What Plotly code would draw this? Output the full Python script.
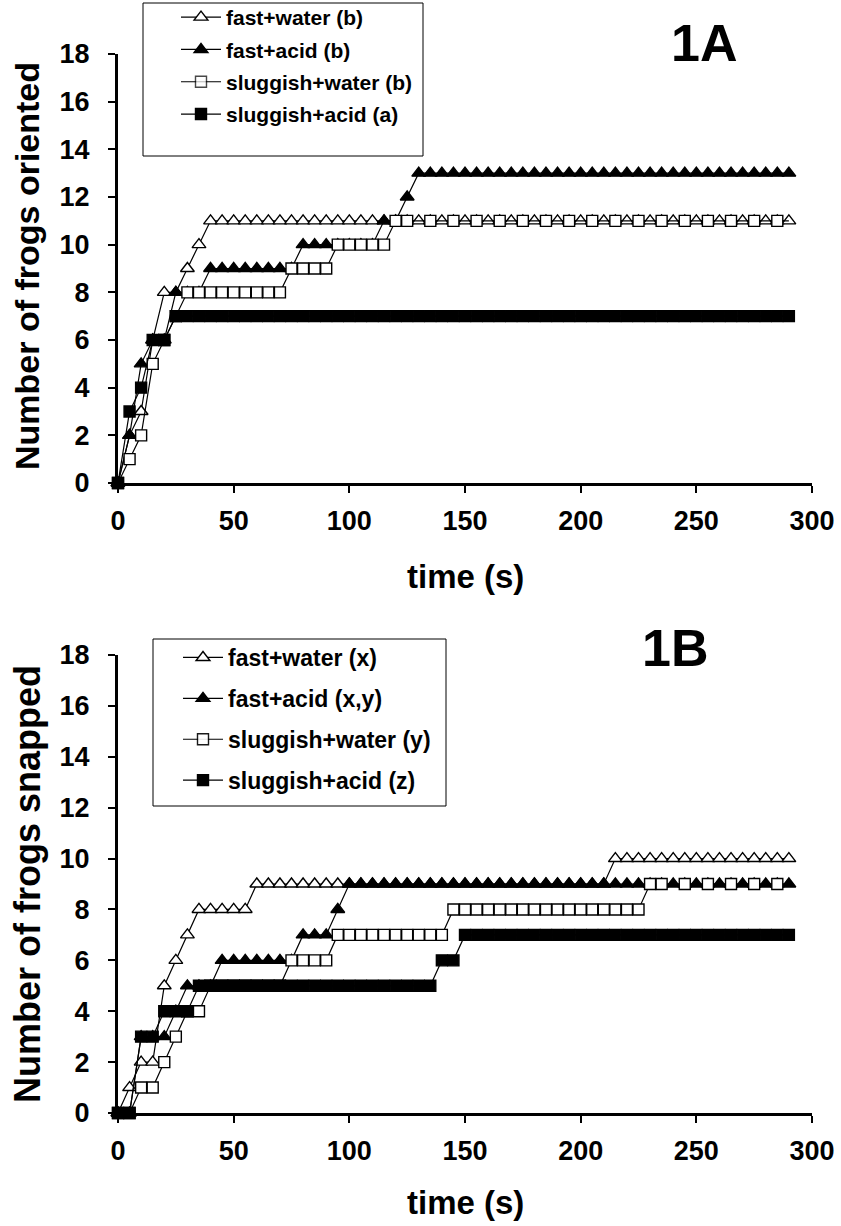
import plotly.graph_objects as go

# ---------------- data ----------------
time_s = [0, 5, 10, 15, 20, 25, 30, 35, 40, 45, 50, 55, 60, 65, 70, 75, 80, 85, 90, 95,
          100, 105, 110, 115, 120, 125, 130, 135, 140, 145, 150, 155, 160, 165, 170, 175,
          180, 185, 190, 195, 200, 205, 210, 215, 220, 225, 230, 235, 240, 245, 250, 255,
          260, 265, 270, 275, 280, 285, 290]

# Panel 1A: number of frogs oriented
oriented_fast_water = [0, 2, 3, 6, 8, 8, 9, 10, 11, 11, 11, 11, 11, 11, 11, 11, 11, 11, 11, 11,
                       11, 11, 11, 11, 11, 11, 11, 11, 11, 11, 11, 11, 11, 11, 11, 11, 11, 11, 11, 11,
                       11, 11, 11, 11, 11, 11, 11, 11, 11, 11, 11, 11, 11, 11, 11, 11, 11, 11, 11]
oriented_fast_acid = [0, 2, 5, 6, 6, 8, 8, 8, 9, 9, 9, 9, 9, 9, 9, 9, 10, 10, 10, 10,
                      10, 10, 10, 11, 11, 12, 13, 13, 13, 13, 13, 13, 13, 13, 13, 13, 13, 13, 13, 13,
                      13, 13, 13, 13, 13, 13, 13, 13, 13, 13, 13, 13, 13, 13, 13, 13, 13, 13, 13]
oriented_slug_water = [0, 1, 2, 5, 6, 7, 8, 8, 8, 8, 8, 8, 8, 8, 8, 9, 9, 9, 9, 10,
                       10, 10, 10, 10, 11, 11, 11, 11, 11, 11, 11, 11, 11, 11, 11, 11, 11, 11, 11, 11,
                       11, 11, 11, 11, 11, 11, 11, 11, 11, 11, 11, 11, 11, 11, 11, 11, 11, 11, 11]
oriented_slug_acid = [0, 3, 4, 6, 6, 7, 7, 7, 7, 7, 7, 7, 7, 7, 7, 7, 7, 7, 7, 7,
                      7, 7, 7, 7, 7, 7, 7, 7, 7, 7, 7, 7, 7, 7, 7, 7, 7, 7, 7, 7,
                      7, 7, 7, 7, 7, 7, 7, 7, 7, 7, 7, 7, 7, 7, 7, 7, 7, 7, 7]

# Panel 1B: number of frogs snapped
snapped_fast_water = [0, 1, 2, 2, 5, 6, 7, 8, 8, 8, 8, 8, 9, 9, 9, 9, 9, 9, 9, 9,
                      9, 9, 9, 9, 9, 9, 9, 9, 9, 9, 9, 9, 9, 9, 9, 9, 9, 9, 9, 9,
                      9, 9, 9, 10, 10, 10, 10, 10, 10, 10, 10, 10, 10, 10, 10, 10, 10, 10, 10]
snapped_fast_acid = [0, 0, 3, 3, 3, 4, 5, 5, 5, 6, 6, 6, 6, 6, 6, 6, 7, 7, 7, 8,
                     9, 9, 9, 9, 9, 9, 9, 9, 9, 9, 9, 9, 9, 9, 9, 9, 9, 9, 9, 9,
                     9, 9, 9, 9, 9, 9, 9, 9, 9, 9, 9, 9, 9, 9, 9, 9, 9, 9, 9]
snapped_slug_water = [0, 0, 1, 1, 2, 3, 4, 4, 5, 5, 5, 5, 5, 5, 5, 6, 6, 6, 6, 7,
                      7, 7, 7, 7, 7, 7, 7, 7, 7, 8, 8, 8, 8, 8, 8, 8, 8, 8, 8, 8,
                      8, 8, 8, 8, 8, 8, 9, 9, 9, 9, 9, 9, 9, 9, 9, 9, 9, 9, 9]
snapped_slug_acid = [0, 0, 3, 3, 4, 4, 4, 5, 5, 5, 5, 5, 5, 5, 5, 5, 5, 5, 5, 5,
                     5, 5, 5, 5, 5, 5, 5, 5, 6, 6, 7, 7, 7, 7, 7, 7, 7, 7, 7, 7,
                     7, 7, 7, 7, 7, 7, 7, 7, 7, 7, 7, 7, 7, 7, 7, 7, 7, 7, 7]

legend_A = ["fast+water (b)", "fast+acid (b)", "sluggish+water (b)", "sluggish+acid (a)"]
legend_B = ["fast+water (x)", "fast+acid (x,y)", "sluggish+water (y)", "sluggish+acid (z)"]

x_ticks = [0, 50, 100, 150, 200, 250, 300]
y_ticks = [0, 2, 4, 6, 8, 10, 12, 14, 16, 18]

# ---------------- layout helpers ----------------
W, H = 841, 1226
FONT = "Liberation Sans, Arial, Helvetica, sans-serif"


def px(x):
    return x / W


def py(y):
    return 1 - y / H


styles = [
    dict(symbol="triangle-up", color="white", size=12),
    dict(symbol="triangle-up", color="black", size=12),
    dict(symbol="square", color="white", size=11),
    dict(symbol="square", color="black", size=11),
]


def square_opacity(sq, tri):
    # where the open squares sit on the same level as a triangle series,
    # the reference shows triangles peeking through at every other sample
    op = []
    for i in range(len(sq)):
        hide = (i > 0 and sq[i] == tri[i] and sq[i - 1] == tri[i - 1]
                and time_s[i] % 10 == 0)
        op.append(0 if hide else 1)
    return op


fig = go.Figure()

panels = [
    ("x", "y", "legend", legend_A,
     [oriented_fast_water, oriented_fast_acid, oriented_slug_water, oriented_slug_acid], 0),
    ("x2", "y2", "legend2", legend_B,
     [snapped_fast_water, snapped_fast_acid, snapped_slug_water, snapped_slug_acid], 1),
]

for xa, ya, leg, names, series, pidx in panels:
    for k, (name, vals) in enumerate(zip(names, series)):
        st = styles[k]
        opac = None
        if k == 2:
            other = series[0] if pidx == 0 else series[1]
            opac = square_opacity(vals, other)
        fig.add_trace(go.Scatter(
            x=time_s, y=vals, name=name, mode="lines+markers",
            xaxis=xa, yaxis=ya, legend=leg, legendgroup=f"{leg}_{k}",
            line=dict(color="black", width=1.2),
            marker=dict(symbol=st["symbol"], size=st["size"], color=st["color"],
                        opacity=opac,
                        line=dict(color="black", width=1.4)),
            cliponaxis=False,
        ))

axis_common = dict(
    showline=True, linecolor="black", linewidth=3, mirror=False,
    showgrid=False, zeroline=False, ticks="outside", ticklen=7, tickwidth=2,
    tickcolor="black",
    tickfont=dict(family=FONT, size=27, color="black", weight="bold"),
)


def ann(text, x, y, size, angle=0):
    return dict(text=text, x=px(x), y=py(y), xref="paper", yref="paper",
                xanchor="center", yanchor="middle", textangle=angle, showarrow=False,
                font=dict(family=FONT, size=size, color="black", weight="bold"))


xdom = [px(118), px(812)]
fig.update_layout(
    width=W, height=H,
    margin=dict(l=0, r=0, t=0, b=0, autoexpand=False),
    paper_bgcolor="white", plot_bgcolor="white",
    showlegend=True,
    xaxis=dict(domain=xdom, anchor="y", range=[0, 300], tickvals=x_ticks,
               ticklabelstandoff=5, **axis_common),
    yaxis=dict(domain=[py(483), py(54)], anchor="x", range=[0, 18], tickvals=y_ticks,
               ticklabelstandoff=13, **axis_common),
    xaxis2=dict(domain=xdom, anchor="y2", range=[0, 300], tickvals=x_ticks,
                ticklabelstandoff=5, **axis_common),
    yaxis2=dict(domain=[py(1113), py(655)], anchor="x2", range=[0, 18], tickvals=y_ticks,
                ticklabelstandoff=13, **axis_common),
    legend=dict(x=px(176), y=py(-3), xanchor="left", yanchor="top",
                bgcolor="rgba(0,0,0,0)", borderwidth=0, traceorder="grouped",
                tracegroupgap=2, itemwidth=40,
                font=dict(family=FONT, size=21, color="black", weight="bold")),
    legend2=dict(x=px(178), y=py(636), xanchor="left", yanchor="top",
                 bgcolor="rgba(0,0,0,0)", borderwidth=0, traceorder="grouped",
                 tracegroupgap=8, itemwidth=40,
                 font=dict(family=FONT, size=23, color="black", weight="bold")),
    shapes=[
        dict(type="rect", xref="paper", yref="paper",
             x0=px(143), x1=px(423), y0=py(156), y1=py(3),
             line=dict(color="black", width=1), fillcolor="rgba(0,0,0,0)", layer="below"),
        dict(type="rect", xref="paper", yref="paper",
             x0=px(153), x1=px(446), y0=py(806), y1=py(639),
             line=dict(color="black", width=1), fillcolor="rgba(0,0,0,0)", layer="below"),
    ],
    annotations=[
        ann("1A", 704, 43, 52),
        ann("1B", 675, 648, 52),
        ann("time (s)", 466, 576, 33),
        ann("time (s)", 466, 1202, 33),
        ann("Number of frogs oriented", 27, 266, 34, -90),
        ann("Number of frogs snapped", 27, 884, 36, -90),
    ],
)

# place the figure flush with the window's corner (no default body margin)
fig.write_html("out.html",
               config={"displayModeBar": False},
               post_script="document.body.style.margin='0px';"
                           "document.body.style.overflow='hidden';")
